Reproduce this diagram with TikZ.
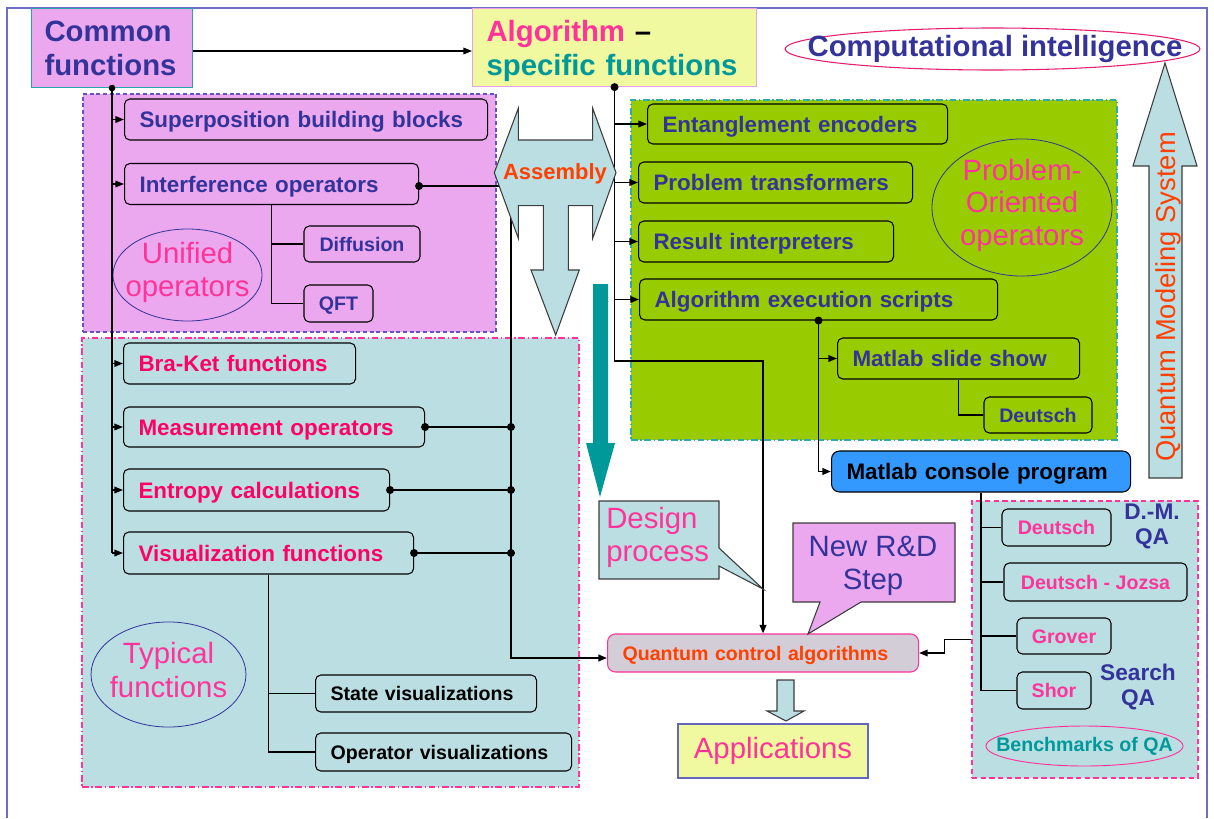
\documentclass[tikz,border=0pt]{standalone}
\usepackage{fontspec}
\setmainfont{Liberation Sans}
\usetikzlibrary{arrows.meta}

\definecolor{violetfill}{RGB}{235,168,238}
\definecolor{ink}{RGB}{51,51,153}
\definecolor{rose}{RGB}{255,51,153}
\definecolor{crimson}{RGB}{255,0,102}
\definecolor{skyfill}{RGB}{187,222,227}
\definecolor{leaf}{RGB}{153,204,0}
\definecolor{lemon}{RGB}{240,248,160}
\definecolor{teal2}{RGB}{0,153,153}
\definecolor{flame}{RGB}{255,64,0}
\definecolor{azure}{RGB}{51,153,255}
\definecolor{mist}{RGB}{210,205,214}
\definecolor{framecol}{RGB}{110,110,200}
\definecolor{tealedge}{RGB}{40,165,170}
\definecolor{lilacedge}{RGB}{232,160,232}
\definecolor{dashblue}{RGB}{100,85,190}
\definecolor{greenedge}{RGB}{50,170,170}
\definecolor{shade}{RGB}{60,60,60}
\definecolor{cipink}{RGB}{230,30,110}
\definecolor{appedge}{RGB}{102,102,187}

\newcommand\fBig{\fontsize{22}{25.5}\selectfont\bfseries}
\newcommand\fMid{\fontsize{16.8}{20}\selectfont\bfseries}
\newcommand\fSmall{\fontsize{14.7}{17}\selectfont\bfseries}
\newcommand\fNote{\fontsize{22}{25}\selectfont}
\newcommand\pxl[1]{#1*0.75pt}

\tikzset{
  rbox/.style={draw=black, line width=0.8pt, rounded corners=4pt, inner ysep=0pt},
  lbox/.style={rbox, anchor=west, align=left, inner xsep=11.25pt},
  cbox/.style={rbox, inner xsep=0pt, align=center},
  midtext/.style={font=\fMid, text height=12pt, text depth=0pt},
  smalltext/.style={font=\fSmall, text height=10.5pt, text depth=0pt},
  region/.style={inner sep=0pt, line width=0.8pt},
  wire/.style={line width=1.1pt},
  bus/.style={line width=1.4pt},
  spine/.style={line width=2pt},
  arr/.style={-{Triangle[length=6.5pt,width=5pt]}},
  note/.style={font=\fNote, text=rose, inner sep=0pt},
  outline/.style={draw=shade, line width=0.8pt, line join=miter},
  tagring/.style={draw=ink, line width=0.6pt},
}

\begin{document}
\begin{tikzpicture}[x=0.75pt,y=-0.75pt]
\useasboundingbox (0,0) rectangle (1214,818);

% outer frame
\draw[framecol, line width=0.8pt] (7,818) -- (7,8) -- (1207,8) -- (1207,818);

% ---------- regions ----------
\node[region, fill=violetfill, draw=dashblue, dash pattern=on 3pt off 2pt,
      minimum width=\pxl{413}, minimum height=\pxl{238}] (unified) at (289.5,213) {};
\node[region, fill=skyfill, draw=rose, dash pattern=on 5pt off 2pt on 1pt off 2pt,
      minimum width=\pxl{497}, minimum height=\pxl{449}] (typical) at (330.5,562.5) {};
\node[region, fill=leaf, draw=greenedge, dash pattern=on 5pt off 2pt on 1pt off 2pt,
      minimum width=\pxl{486}, minimum height=\pxl{340}] (probregion) at (874,270) {};
\node[region, fill=skyfill, draw=rose, dash pattern=on 4pt off 2.5pt,
      minimum width=\pxl{226}, minimum height=\pxl{277}] (bench) at (1085,639.5) {};

% region labels
\draw[tagring] (187.5,275) ellipse [x radius=55.9pt, y radius=34.5pt];
\node[note, align=center] (unifiedlbl) at (187.5,272.5) {Unified\\operators};
\draw[tagring] (168.5,674.5) ellipse [x radius=58.1pt, y radius=39.4pt];
\node[note, align=center] (typicallbl) at (168.5,670) {Typical\\functions};
\draw[tagring] (1022,207.5) ellipse [x radius=67.5pt, y radius=51.4pt];
\node[note, font=\fontsize{22}{24.4}\selectfont, align=center] (problbl) at (1022,205) {Problem-\\Oriented\\operators};
\draw[rose, line width=0.7pt] (1084.5,746) ellipse [x radius=73.9pt, y radius=15pt];
\node[font=\fSmall, text=teal2, inner sep=0pt] (benchlbl) at (1084.5,746) {Benchmarks of QA};

% ---------- top boxes ----------
\node[draw=tealedge, line width=0.8pt, fill=violetfill, text=ink, font=\fBig, align=left,
      anchor=north west, inner xsep=9.75pt, inner ysep=0pt, text width=101.25pt,
      minimum height=\pxl{79}] (common) at (31,8) {Common\\functions};
\node[draw=lilacedge, line width=0.8pt, fill=lemon, font=\fBig, align=left,
      anchor=north west, inner xsep=10.5pt, inner ysep=0pt, text width=192pt,
      minimum height=\pxl{78}] (alg) at (472,8)
      {\textcolor{rose}{Algorithm} –\\\smash{\textcolor{teal2}{specific functions}}};

\draw[cipink, line width=0.8pt, fill=white] (992.5,49) ellipse [x radius=155.6pt, y radius=15.75pt];
\node[font=\fBig, text=ink, inner sep=0pt] (ci) at (995,49) {Computational intelligence};

% ---------- unified operators ----------
\node[lbox, midtext, fill=violetfill, text=ink, text width=249.75pt, minimum height=\pxl{41}] (sup) at (124,119.5) {Superposition building blocks};
\node[lbox, midtext, fill=violetfill, text=ink, text width=198pt, minimum height=\pxl{41}] (int) at (124,184) {Interference operators};
\node[cbox, smalltext, fill=violetfill, text=ink, minimum width=\pxl{116}, minimum height=\pxl{36}] (diff) at (362,244) {Diffusion};
\node[cbox, smalltext, fill=violetfill, text=ink, minimum width=\pxl{69}, minimum height=\pxl{37}] (qft) at (338.5,303.5) {QFT};

% ---------- typical functions ----------
\node[lbox, midtext, fill=skyfill, text=crimson, text width=151.5pt, minimum height=\pxl{41}] (bra) at (123,363.5) {Bra-Ket functions};
\node[lbox, midtext, fill=skyfill, text=crimson, text width=203.25pt, minimum height=\pxl{40}] (meas) at (123,427) {Measurement operators};
\node[lbox, midtext, fill=skyfill, text=crimson, text width=177pt, minimum height=\pxl{42}] (entr) at (123,490) {Entropy calculations};
\node[lbox, midtext, fill=skyfill, text=crimson, text width=195pt, minimum height=\pxl{42}] (vis) at (123,553) {Visualization functions};
\node[lbox, smalltext, fill=skyfill, text=black, text width=143.25pt, minimum height=\pxl{37}] (statev) at (315,693.5) {State visualizations};
\node[lbox, smalltext, fill=skyfill, text=black, text width=169.5pt, minimum height=\pxl{38}] (opv) at (315,752) {Operator visualizations};

% ---------- problem-oriented operators ----------
\node[lbox, midtext, fill=leaf, text=ink, text width=202.5pt, minimum height=\pxl{40}] (entg) at (647,124) {Entanglement encoders};
\node[lbox, midtext, fill=leaf, text=ink, text width=183pt, minimum height=\pxl{41}] (prob) at (638,182.5) {Problem transformers};
\node[lbox, midtext, fill=leaf, text=ink, text width=168.75pt, minimum height=\pxl{41}] (res) at (638,241.5) {Result interpreters};
\node[lbox, midtext, fill=leaf, text=ink, text width=246pt, minimum height=\pxl{41}] (aes) at (639,299.5) {Algorithm execution scripts};
\node[lbox, midtext, fill=leaf, text=ink, text width=159pt, minimum height=\pxl{41}] (mss) at (837,358.5) {Matlab slide show};
\node[cbox, smalltext, fill=leaf, text=ink, minimum width=\pxl{108}, minimum height=\pxl{36}] (gdeu) at (1038,415) {Deutsch};
\node[lbox, midtext, fill=azure, text=black, text width=201.75pt, minimum height=\pxl{41}, rounded corners=6pt] (mcp) at (831,471.5) {Matlab console program};

% ---------- benchmarks ----------
\node[cbox, smalltext, fill=skyfill, text=rose, minimum width=\pxl{109}, minimum height=\pxl{37}] (bdeu) at (1056.5,527.5) {Deutsch};
\node[cbox, smalltext, fill=skyfill, text=rose, minimum width=\pxl{183}, minimum height=\pxl{38}] (bdj) at (1095.5,582) {Deutsch - Jozsa};
\node[cbox, smalltext, fill=skyfill, text=rose, minimum width=\pxl{94}, minimum height=\pxl{36}] (bgro) at (1064,636) {Grover};
\node[cbox, smalltext, fill=skyfill, text=rose, minimum width=\pxl{74}, minimum height=\pxl{37}] (bshor) at (1054,690.5) {Shor};
\node[font=\fontsize{17}{18.75}\selectfont\bfseries, text=ink, align=center, inner sep=0pt] (dmqa) at (1152,526.5) {D.-M.\\QA};
\node[font=\fontsize{17}{18.75}\selectfont\bfseries, text=ink, align=center, inner sep=0pt] (searchqa) at (1138,687.5) {Search\\QA};

% ---------- outcome ----------
\node[lbox, smalltext, fill=mist, draw=rose, text=flame, text width=210.75pt, minimum height=\pxl{38}, rounded corners=6pt] (qca) at (607,653) {Quantum control algorithms};
\node[draw=appedge, line width=0.8pt, fill=lemon, font=\fNote, text=rose, inner sep=0pt,
      minimum width=\pxl{190}, minimum height=\pxl{54}] (apps) at (773,751) {Applications};

% ---------- connectors ----------
\draw[wire,arr] (common.east |- 0,51) -- (alg.west |- 0,51);

% common functions feed every building block
\draw[spine] (common.south) -- (common.south |- vis.west);
\fill (common.south) circle (2.5pt);
\foreach \n in {sup,int,bra,meas,entr,vis}
  \draw[wire,arr] (common.south |- \n.west) -- (\n.west);

% interference operators and typical functions gather into the control algorithms
\coordinate (gather) at (511,0);
\coordinate (qcain) at ([yshift=-3.75pt]qca.west);
\draw[bus,arr] ([yshift=-1.5pt]int.east) -- ([yshift=-1.5pt]int.east -| gather) -- (gather |- qcain) -- (qcain);
\fill ([yshift=-1.5pt]int.east) circle (3pt);
\foreach \n in {meas,entr,vis}{
  \draw[wire] (\n.east) -- (\n.east -| gather);
  \fill (\n.east) circle (3pt);
  \fill (\n.east -| gather) circle (3pt);
}

\draw[wire] (int.south) |- (qft.west);
\draw[wire] (int.south |- diff.west) -- (diff.west);
\draw[wire] (vis.south) |- (opv.west);
\draw[wire] (vis.south |- statev.west) -- (statev.west);

% algorithm-specific branch
\draw[bus,arr] (alg.south) -- ++(0,274) -| (qca.north);
\fill (alg.south) circle (3pt);
\foreach \n in {entg,prob,res,aes}
  \draw[wire,arr] (alg.south |- \n.west) -- (\n.west);

\draw[bus,arr] (aes.south) |- (mcp.west);
\fill (aes.south) circle (3pt);
\draw[wire,arr] (aes.south |- mss.west) -- (mss.west);
\draw[wire] (mss.south) |- (gdeu.west);

\draw[wire] (mcp.south) |- (bshor.west);
\foreach \n in {bdeu,bdj,bgro}
  \draw[wire] (mcp.south |- \n.west) -- (\n.west);
\draw[wire,arr] (bench.west) -- ++(-27,0) |- (qca.east);

% ---------- block arrows ----------
\draw[outline, fill=skyfill] (494.3,172.7) -- (518.3,108.3) -- (518.3,140) -- (592.7,140)
  -- (592.7,108.3) -- (616,172.7) -- (592.7,238.3) -- (592.7,205.7) -- (568.3,205.7)
  -- (568.3,270) -- (579.3,270) -- (555.7,335) -- (531,270) -- (543.3,270)
  -- (543.3,205.7) -- (518.3,205.7) -- (518.3,238.3) -- cycle;
\node[font=\fontsize{16.5}{18}\selectfont\bfseries, text=flame, text height=11.8pt, text depth=0pt, inner sep=0pt] (assembly) at (555,172) {Assembly};

\fill[teal2] (593,284) -- (608,284) -- (608,443) -- (615,443) -- (600,497) -- (586,443) -- (593,443) -- cycle;

\draw[outline, fill=skyfill] (1149,478) -- (1149,166) -- (1133,166) -- (1165,63) -- (1197,166) -- (1182,166) -- (1182,478) -- cycle;
\node[rotate=90, font=\fontsize{20.5}{24}\selectfont, text=flame, inner sep=0pt] (qms) at (1168,297) {Quantum Modeling System};

\draw[outline, fill=skyfill] (777,680) -- (794,680) -- (794,711) -- (804,711) -- (786,721) -- (767,711) -- (777,711) -- cycle;

% ---------- callouts ----------
\draw[outline, fill=skyfill] (599,501) -- (719,501) -- (719,548) -- (763,589) -- (719,566) -- (719,579) -- (599,579) -- cycle;
\node[note, align=left, anchor=north west] (design) at (606,507) {Design\\process};

\draw[outline, fill=violetfill] (793,523) -- (955,523) -- (955,602) -- (861,602) -- (808,634) -- (820,602) -- (793,602) -- cycle;
\node[note, text=ink, align=center, anchor=north] (newrd) at (873,536) {New R\&D\\Step};

\end{tikzpicture}
\end{document}
